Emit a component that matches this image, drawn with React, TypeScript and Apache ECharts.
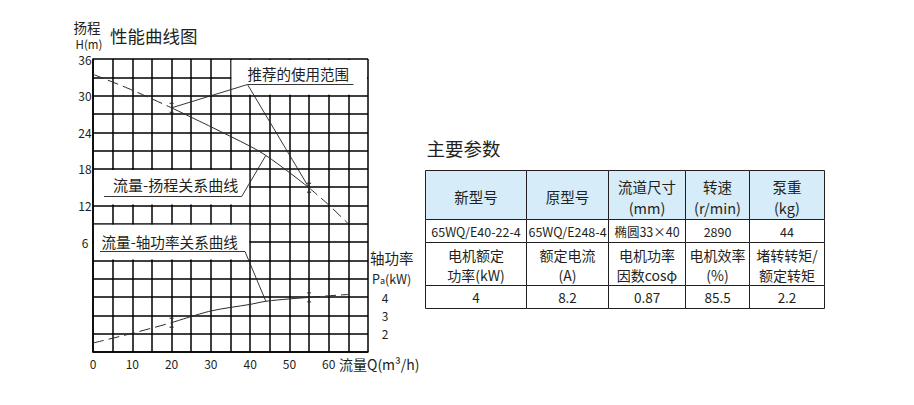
import React, { useEffect, useRef } from 'react';
import * as echarts from 'echarts';

// pump curve
const flowQ = [0, 10, 20, 30, 40, 44, 50, 55, 60, 65];
const headH = [33.5, 30.9, 28, 24.9, 21.7, 20.2, 17.4, 14.9, 12.1, 9];
const powerP = [1.49, 2.02, 2.6, 3.24, 3.6, 3.77, 3.9, 3.98, 4.07, 4.14];
const rangeQ = [20, 55]; // recommended range
const labelQ = 44; // where the curve labels point
const flowTicks = [0, 10, 20, 30, 40, 50, 60];
const headTicks = [6, 12, 18, 24, 30, 36];
const powerTicks = [2, 3, 4];

// parameter table
const tableHead = ['新型号', '原型号', '流道尺寸\n(mm)', '转速\n(r/min)', '泵重\n(kg)'];
const tableModel = ['65WQ/E40-22-4', '65WQ/E248-4', '椭圆33×40', '2890', '44'];
const tableMotorHead = ['电机额定\n功率(kW)', '额定电流\n(A)', '电机功率\n因数cosφ', '电机效率\n(%)', '堵转转矩/\n额定转矩'];
const tableMotor = ['4', '8.2', '0.87', '85.5', '2.2'];

const FONT = '"Noto Sans CJK SC", "Noto Sans", sans-serif';
const INK = '#231f20';
const GRID = '#000000';
const CURVE = '#2a2a2a';

const seg = (vals: number[], lo: number, hi: number) =>
  flowQ.map((q, i) => [q, vals[i]]).filter(([q]) => q >= lo && q <= hi);
const at = (vals: number[], q: number) => vals[flowQ.indexOf(q)];

const App = () => {
  const chartRef = useRef(null);

  useEffect(() => {
    if (!chartRef.current) return;
    const chart = echarts.init(chartRef.current, null, { renderer: 'svg' });

    const lineSeries = (data: number[][], yIdx: number, dashed: boolean) => ({
      type: 'line',
      yAxisIndex: yIdx,
      data,
      smooth: 0.3,
      symbol: 'none',
      z: 2,
      lineStyle: { color: CURVE, width: 1, type: dashed ? [11, 5] : 'solid' },
    });

    const markSeries = (vals: number[], yIdx: number) => ({
      type: 'scatter',
      yAxisIndex: yIdx,
      data: rangeQ.map((q) => [q, at(vals, q)]),
      symbol: 'path://M0 0H6M3 0V12M0 12H6',
      symbolSize: [4, 9],
      z: 3,
      itemStyle: { color: 'none', borderColor: CURVE, borderWidth: 0.9 },
    });

    const last = flowQ[flowQ.length - 1];

    chart.setOption({
      animation: false,
      textStyle: { fontFamily: FONT, color: INK },
      grid: { left: 93, top: 59, width: 275, height: 293 },
      xAxis: {
        type: 'value',
        min: 0,
        max: 70,
        interval: 5,
        axisLine: { onZero: false, lineStyle: { color: GRID, width: 1.5 } },
        axisTick: { show: false },
        splitLine: { lineStyle: { color: GRID, width: 1.5 } },
        axisLabel: {
          color: INK,
          fontSize: 12,
          margin: 5,
          formatter: (v: number) => (flowTicks.includes(v) ? String(v) : ''),
        },
      },
      yAxis: [
        {
          type: 'value',
          min: -12,
          max: 36,
          interval: 3,
          axisLine: { show: true, onZero: false, lineStyle: { color: GRID, width: 1.5 } },
          axisTick: { show: false },
          splitLine: { lineStyle: { color: GRID, width: 1.5 } },
          axisLabel: {
            color: INK,
            fontSize: 12,
            margin: 8,
            align: 'center',
            formatter: (v: number) => (headTicks.includes(v) ? String(v) : ''),
          },
        },
        {
          type: 'value',
          position: 'right',
          min: 1,
          max: 17,
          interval: 1,
          axisLine: { show: false },
          axisTick: { show: false },
          splitLine: { show: false },
          axisLabel: {
            color: INK,
            fontSize: 12,
            margin: 17,
            align: 'center',
            formatter: (v: number) => (powerTicks.includes(v) ? String(v) : ''),
          },
        },
      ],
      series: [
        lineSeries(seg(headH, 0, rangeQ[0]), 0, true),
        lineSeries(seg(headH, rangeQ[0], rangeQ[1]), 0, false),
        lineSeries(seg(headH, rangeQ[1], last), 0, true),
        lineSeries(seg(powerP, 0, rangeQ[0]), 1, true),
        lineSeries(seg(powerP, rangeQ[0], rangeQ[1]), 1, false),
        lineSeries(seg(powerP, rangeQ[1], last), 1, true),
        markSeries(headH, 0),
        markSeries(powerP, 1),
      ],
    });

    const px = (q: number, h: number) => chart.convertToPixel({ xAxisIndex: 0, yAxisIndex: 0 }, [q, h]) as number[];
    const pxP = (q: number, p: number) => chart.convertToPixel({ xAxisIndex: 0, yAxisIndex: 1 }, [q, p]) as number[];

    // white boxes behind the labels, hiding the inner grid lines
    const box = (q0: number, h0: number, q1: number, h1: number) => {
      const a = px(q0, h1);
      const b = px(q1, h0);
      return {
        type: 'rect',
        z: 1,
        shape: { x: a[0] + 1, y: a[1] + 1, width: b[0] - a[0] - 2, height: b[1] - a[1] - 2 },
        style: { fill: '#fff' },
      };
    };

    const text = (x: number, y: number, t: string, size: number, align = 'left', extra: any = {}) => ({
      type: 'text',
      z: 5,
      x,
      y,
      style: { text: t, fontSize: size, fontFamily: FONT, fill: INK, align, verticalAlign: 'middle', ...extra },
    });

    const line = (x1: number, y1: number, x2: number, y2: number, w = 0.9) => ({
      type: 'line',
      z: 5,
      shape: { x1, y1, x2, y2 },
      style: { stroke: INK, lineWidth: w },
    });

    const h20 = px(rangeQ[0], at(headH, rangeQ[0]));
    const h55 = px(rangeQ[1], at(headH, rangeQ[1]));
    const hLab = px(labelQ, at(headH, labelQ));
    const pLab = pxP(labelQ, at(powerP, labelQ));

    const elements: any[] = [
      box(35, 30, 70, 36),
      box(0, 12, 40, 18),
      box(0, 3, 40, 9),
      // titles
      text(87, 26.5, '扬程', 13.5, 'center'),
      text(89, 43.5, 'H(m)', 11.5, 'center'),
      text(110, 35, '性能曲线图', 17.5),
      text(370, 257, '轴功率', 14.5),
      {
        type: 'text',
        z: 5,
        x: 372,
        y: 278,
        style: {
          text: '{b|P}{s|a}{b|(kW)}',
          fill: INK,
          verticalAlign: 'middle',
          fontFamily: FONT,
          rich: {
            b: { fontSize: 12.5, fontFamily: FONT, fill: INK },
            s: { fontSize: 9, fontFamily: FONT, fill: INK, padding: [5, 0, 0, 0] },
          },
        },
      },
      text(339, 364, '流量Q(m³/h)', 14),
      // recommended range
      text(247.5, 73.3, '推荐的使用范围', 14.5),
      line(247.5, 84.5, 353.5, 84.5),
      line(247.5, 84.5, h20[0], h20[1]),
      line(247.5, 84.5, h55[0], h55[1]),
      // head curve label
      text(113, 184.3, '流量-扬程关系曲线', 15),
      line(104, 196.5, 241.7, 196.5),
      line(241.7, 196.5, hLab[0], hLab[1]),
      // power curve label
      text(101.5, 241, '流量-轴功率关系曲线', 14.6),
      line(100, 251.5, 245, 251.5),
      line(245, 251.5, pLab[0], pLab[1]),
      // table title
      text(426.5, 147.5, '主要参数', 18.5),
    ];

    // parameter table
    const cols = [425.5, 526.5, 608.5, 685.5, 749.5, 824.5];
    const rows = [170.5, 219.5, 242.5, 285.5, 308.5];
    const tableRows = [
      { cells: tableHead, fill: '#d6ecf8', size: 14.5, lh: 21, dy: 1.5 },
      { cells: tableModel, fill: '#fff', size: 12.5, lh: 16, dy: 0 },
      { cells: tableMotorHead, fill: '#fff', size: 14, lh: 20.3, dy: 0.8 },
      { cells: tableMotor, fill: '#fff', size: 13.5, lh: 16, dy: -0.5 },
    ];
    tableRows.forEach((r, ri) => {
      r.cells.forEach((c, ci) => {
        const x0 = cols[ci];
        const x1 = cols[ci + 1];
        const y0 = rows[ri];
        const y1 = rows[ri + 1];
        elements.push({
          type: 'rect',
          z: 4,
          shape: { x: x0, y: y0, width: x1 - x0, height: y1 - y0 },
          style: { fill: r.fill, stroke: INK, lineWidth: 1 },
        });
        elements.push(text((x0 + x1) / 2, (y0 + y1) / 2 + r.dy, c, r.size, 'center', { lineHeight: r.lh }));
      });
    });

    chart.setOption({ graphic: { elements } });

    return () => {
      chart.dispose();
    };
  }, []);

  return <div ref={chartRef} style={{ position: 'absolute', left: 0, top: 0, width: '914px', height: '405px' }} />;
};

export default App;
